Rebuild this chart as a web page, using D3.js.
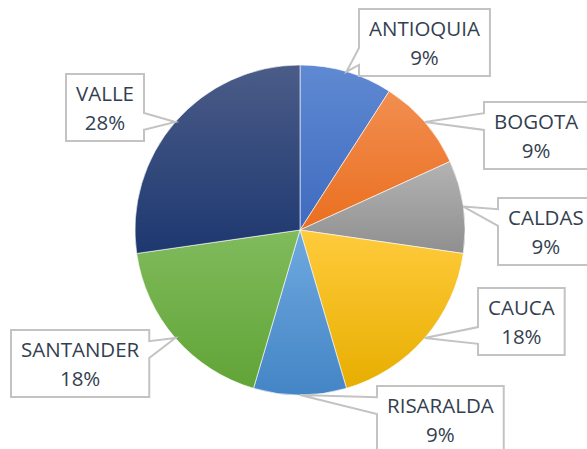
<!DOCTYPE html>
<html>
<head>
<meta charset="utf-8">
<script src="https://cdn.jsdelivr.net/npm/d3@7"></script>
<style>
  body { margin: 0; background: #fff; }
  svg { display: block; }
  text { font-family: "Open Sans", "Noto Sans", sans-serif; }
</style>
</head>
<body>
<svg id="chart"></svg>
<script>
// data
const regions = ['ANTIOQUIA', 'BOGOTA', 'CALDAS', 'CAUCA', 'RISARALDA', 'SANTANDER', 'VALLE'];
const counts = [1, 1, 1, 2, 1, 2, 3];
const pctLabels = ['9%', '9%', '9%', '18%', '9%', '18%', '28%'];

// colours (top / bottom of each gradient)
const topColors = ['#5f89d2', '#f28e50', '#b3b3b3', '#ffcb3c', '#6fa9df', '#80bb5c', '#4b5c88'];
const bottomColors = ['#3f6bbf', '#ea6f1f', '#8f8f8f', '#e7ae00', '#4485c6', '#61a437', '#1d3870'];

// where the callout boxes sit (top-left corner)
const boxLeft = [359, 484, 498, 478, 377, 11, 66];
const boxTop = [9, 102, 198, 288, 386, 330, 74];

const width = 587, height = 449;
const cx = 300, cy = 230, radius = 165;
const boxH = 67, padX = 10, fontSize = 20.5;

const svg = d3.select('#chart').attr('width', width).attr('height', height);

const defs = svg.append('defs');
regions.forEach((r, i) => {
    const g = defs.append('linearGradient')
        .attr('id', 'grad' + i)
        .attr('x1', 0).attr('y1', 0).attr('x2', 0).attr('y2', 1);
    g.append('stop').attr('offset', '0%').attr('stop-color', topColors[i]);
    g.append('stop').attr('offset', '100%').attr('stop-color', bottomColors[i]);
});

const pie = d3.pie().sort(null).value(d => d.value);
const arcs = pie(regions.map((r, i) => ({ name: r, value: counts[i], pct: pctLabels[i], i: i })));

const arc = d3.arc().innerRadius(0).outerRadius(radius);

const g = svg.append('g').attr('transform', `translate(${cx},${cy})`);
g.selectAll('.slice')
    .data(arcs)
    .enter()
    .append('path')
    .attr('class', 'slice')
    .attr('d', arc)
    .attr('fill', d => `url(#grad${d.data.i})`)
    .attr('stroke', '#fff')
    .attr('stroke-width', 0.6);

// callout labels
const labels = svg.append('g');
arcs.forEach((d, i) => {
    const mid = (d.startAngle + d.endAngle) / 2;
    const tip = [cx + radius * Math.sin(mid), cy - radius * Math.cos(mid)];

    const lg = labels.append('g');
    const t1 = lg.append('text')
        .attr('text-anchor', 'middle')
        .attr('font-size', fontSize)
        .attr('fill', '#333f50')
        .text(d.data.name);
    const t2 = lg.append('text')
        .attr('text-anchor', 'middle')
        .attr('font-size', fontSize)
        .attr('fill', '#333f50')
        .text(d.data.pct);
    const tw = Math.max(t1.node().getComputedTextLength(), t2.node().getComputedTextLength());
    const bw = tw + 2 * padX;
    const x0 = boxLeft[i], y0 = boxTop[i];
    const bx = x0 + bw / 2, by = y0 + boxH / 2;
    t1.attr('x', bx).attr('y', y0 + 27);
    t2.attr('x', bx).attr('y', y0 + 56);

    // wedge callout outline
    const dxn = (tip[0] - bx) / bw, dyn = (tip[1] - by) / boxH;
    let pts;
    if (Math.abs(dxn) > Math.abs(dyn)) {
        const a = dyn > 0 ? [7 / 12, 10 / 12] : [2 / 12, 5 / 12];
        if (dxn < 0) {
            pts = [[x0, y0], [x0 + bw, y0], [x0 + bw, y0 + boxH], [x0, y0 + boxH],
                   [x0, y0 + boxH * a[1]], tip, [x0, y0 + boxH * a[0]]];
        } else {
            pts = [[x0, y0], [x0 + bw, y0], [x0 + bw, y0 + boxH * a[0]], tip,
                   [x0 + bw, y0 + boxH * a[1]], [x0 + bw, y0 + boxH], [x0, y0 + boxH]];
        }
    } else {
        const a = dxn > 0 ? [7 / 12, 10 / 12] : [2 / 12, 5 / 12];
        if (dyn < 0) {
            pts = [[x0, y0], [x0 + bw * a[0], y0], tip, [x0 + bw * a[1], y0],
                   [x0 + bw, y0], [x0 + bw, y0 + boxH], [x0, y0 + boxH]];
        } else {
            pts = [[x0, y0], [x0 + bw, y0], [x0 + bw, y0 + boxH], [x0 + bw * a[1], y0 + boxH],
                   tip, [x0 + bw * a[0], y0 + boxH], [x0, y0 + boxH]];
        }
    }
    lg.insert('path', 'text')
        .attr('d', d3.line()(pts) + 'Z')
        .attr('fill', '#fff')
        .attr('stroke', '#c3c3c3')
        .attr('stroke-width', 2);
});
</script>
</body>
</html>
